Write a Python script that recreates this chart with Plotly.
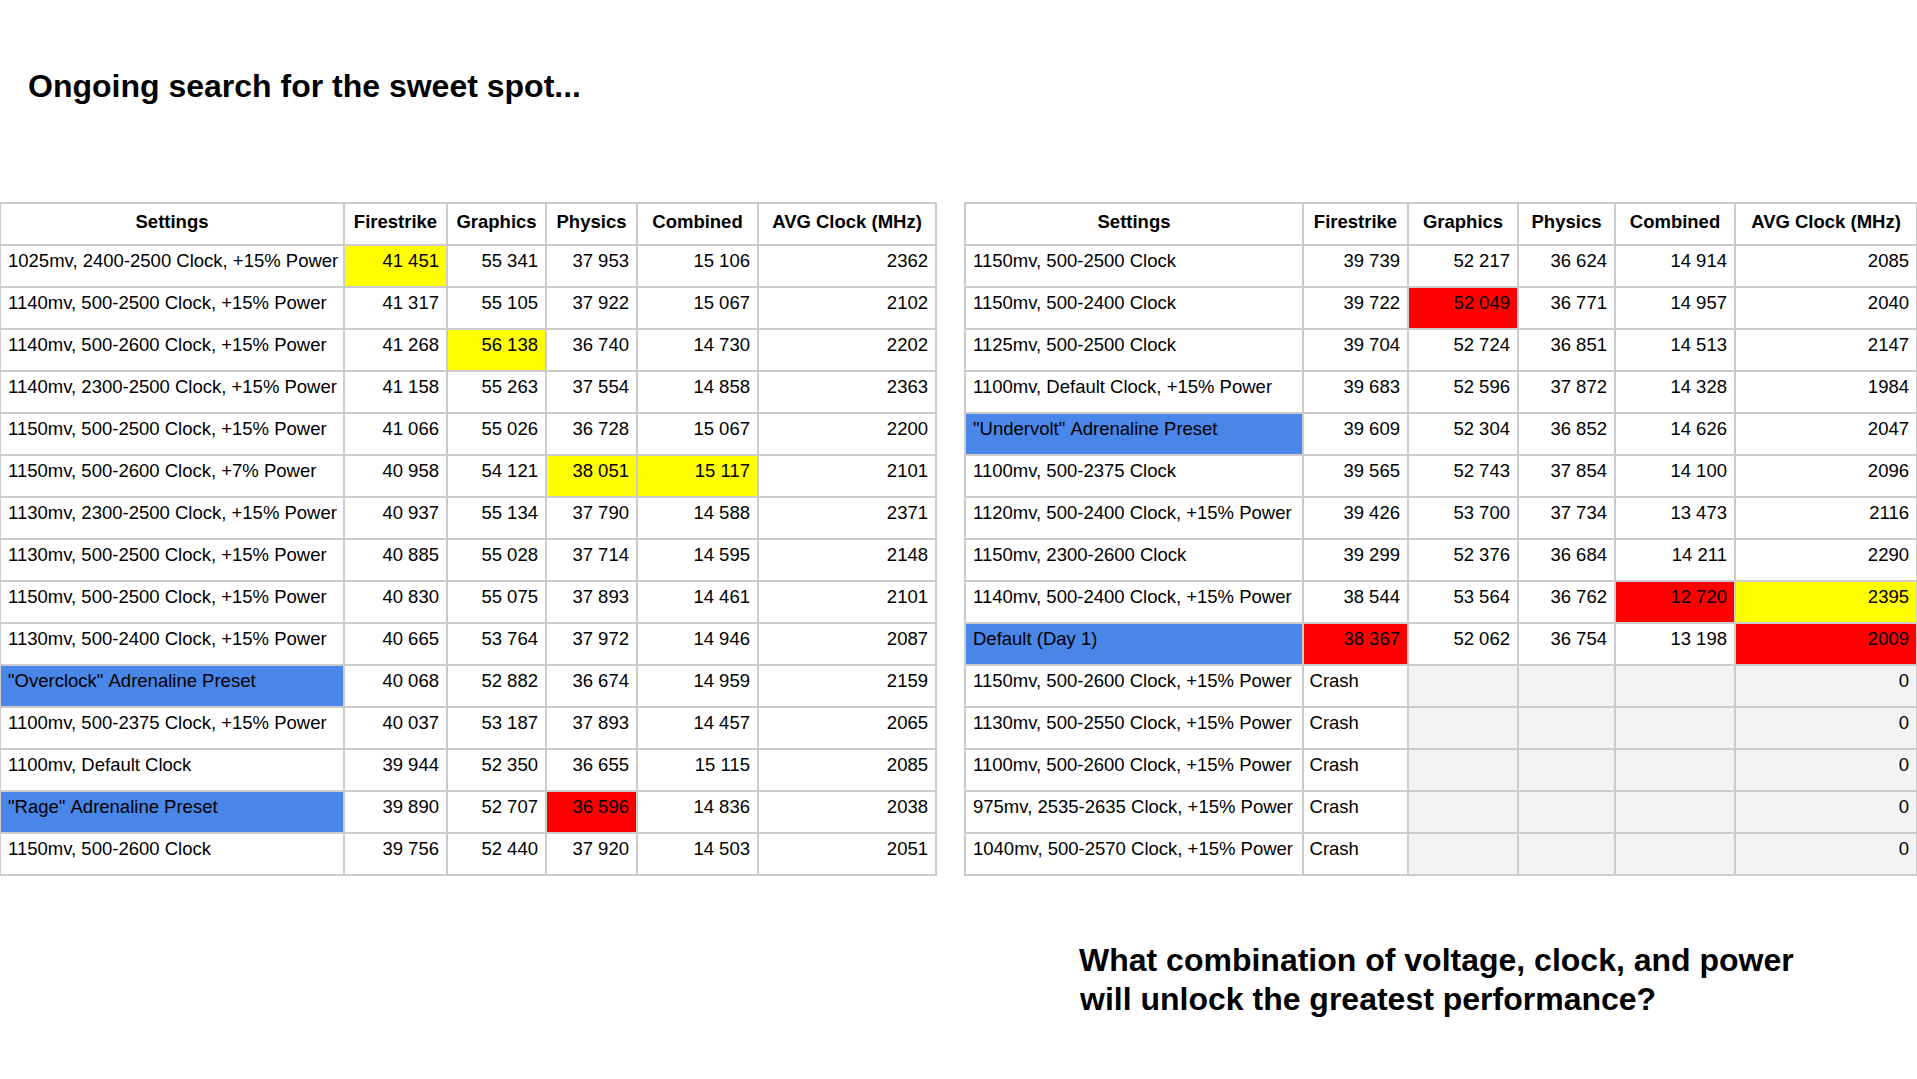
import plotly.graph_objects as go

##############################################################################
# data
headers = ["Settings", "Firestrike", "Graphics", "Physics", "Combined", "AVG Clock (MHz)"]

left_settings = [
    "1025mv, 2400-2500 Clock, +15% Power",
    "1140mv, 500-2500 Clock, +15% Power",
    "1140mv, 500-2600 Clock, +15% Power",
    "1140mv, 2300-2500 Clock, +15% Power",
    "1150mv, 500-2500 Clock, +15% Power",
    "1150mv, 500-2600 Clock, +7% Power",
    "1130mv, 2300-2500 Clock, +15% Power",
    "1130mv, 500-2500 Clock, +15% Power",
    "1150mv, 500-2500 Clock, +15% Power",
    "1130mv, 500-2400 Clock, +15% Power",
    '"Overclock" Adrenaline Preset',
    "1100mv, 500-2375 Clock, +15% Power",
    "1100mv, Default Clock",
    '"Rage" Adrenaline Preset',
    "1150mv, 500-2600 Clock",
]
left_firestrike = [41451, 41317, 41268, 41158, 41066, 40958, 40937, 40885, 40830, 40665,
                   40068, 40037, 39944, 39890, 39756]
left_graphics = [55341, 55105, 56138, 55263, 55026, 54121, 55134, 55028, 55075, 53764,
                 52882, 53187, 52350, 52707, 52440]
left_physics = [37953, 37922, 36740, 37554, 36728, 38051, 37790, 37714, 37893, 37972,
                36674, 37893, 36655, 36596, 37920]
left_combined = [15106, 15067, 14730, 14858, 15067, 15117, 14588, 14595, 14461, 14946,
                 14959, 14457, 15115, 14836, 14503]
left_clock = [2362, 2102, 2202, 2363, 2200, 2101, 2371, 2148, 2101, 2087,
              2159, 2065, 2085, 2038, 2051]

right_settings = [
    "1150mv, 500-2500 Clock",
    "1150mv, 500-2400 Clock",
    "1125mv, 500-2500 Clock",
    "1100mv, Default Clock, +15% Power",
    '"Undervolt" Adrenaline Preset',
    "1100mv, 500-2375 Clock",
    "1120mv, 500-2400 Clock, +15% Power",
    "1150mv, 2300-2600 Clock",
    "1140mv, 500-2400 Clock, +15% Power",
    "Default (Day 1)",
    "1150mv, 500-2600 Clock, +15% Power",
    "1130mv, 500-2550 Clock, +15% Power",
    "1100mv, 500-2600 Clock, +15% Power",
    "975mv, 2535-2635 Clock, +15% Power",
    "1040mv, 500-2570 Clock, +15% Power",
]
# None = crash
right_firestrike = [39739, 39722, 39704, 39683, 39609, 39565, 39426, 39299, 38544, 38367,
                    None, None, None, None, None]
right_graphics = [52217, 52049, 52724, 52596, 52304, 52743, 53700, 52376, 53564, 52062,
                  None, None, None, None, None]
right_physics = [36624, 36771, 36851, 37872, 36852, 37854, 37734, 36684, 36762, 36754,
                 None, None, None, None, None]
right_combined = [14914, 14957, 14513, 14328, 14626, 14100, 13473, 14211, 12720, 13198,
                  None, None, None, None, None]
right_clock = [2085, 2040, 2147, 1984, 2047, 2096, 2116, 2290, 2395, 2009, 0, 0, 0, 0, 0]

# highlighted cells: (row, column, colour)
left_marks = [(0, 1, "yellow"), (2, 2, "yellow"), (5, 3, "yellow"), (5, 4, "yellow"),
              (10, 0, "blue"), (13, 0, "blue"), (13, 3, "red")]
right_marks = [(1, 2, "red"), (4, 0, "blue"), (8, 4, "red"), (8, 5, "yellow"),
               (9, 0, "blue"), (9, 1, "red"), (9, 5, "red")]

title = "Ongoing search for the sweet spot..."
question = ["What combination of voltage, clock, and power",
            "will unlock the greatest performance?"]
##############################################################################

W, H = 1917, 1079
colors = {"yellow": "#ffff00", "red": "#ff0000", "blue": "#4a86e8"}
grid = "#cccccc"
crash_fill = "#f3f3f3"
FONT = "Liberation Sans, Arial"
NB = "\u00a0"


def fmt(v):
    if v is None:
        return ""
    return f"{v:,}".replace(",", NB)


def make_table(settings, cols, marks, x0, x1, widths):
    n = len(settings)
    # nbsp so the long settings don't wrap onto two lines
    values = [[s.replace(" ", NB) for s in settings]] + [[fmt(v) for v in c] for c in cols]
    crashed = [v is None for v in cols[0]]
    # "Crash" sits at the left of a right-aligned column -> pad with nbsp
    values[1] = ["Crash" + NB * 8 if c else v for c, v in zip(crashed, values[1])]
    values[-1] = [str(v) for v in cols[-1]]

    fills = [["white"] * n for _ in range(6)]
    for j in range(2, 6):
        for i in range(n):
            if crashed[i]:
                fills[j][i] = crash_fill
    for i, j, c in marks:
        fills[j][i] = colors[c]

    return go.Table(
        domain=dict(x=[x0 / W, x1 / W], y=[1 - 885 / H, 1 - 203 / H]),
        columnwidth=widths,
        header=dict(
            values=[f"<b>{h.replace(' ', NB)}</b>" for h in headers],
            align="center",
            height=42,
            fill_color="white",
            line=dict(color=grid, width=2),
            font=dict(family=FONT, size=18.5, color="black"),
        ),
        cells=dict(
            values=values,
            align=["left", "right", "right", "right", "right", "right"],
            height=42,
            fill_color=fills,
            line=dict(color=grid, width=2),
            font=dict(family=FONT, size=18.5, color="black"),
        ),
    )


fig = go.Figure()
fig.add_trace(make_table(left_settings,
                         [left_firestrike, left_graphics, left_physics, left_combined, left_clock],
                         left_marks, 0, 936, [344, 103, 99, 91, 121, 178]))
fig.add_trace(make_table(right_settings,
                         [right_firestrike, right_graphics, right_physics, right_combined, right_clock],
                         right_marks, 965, 1917, [338, 105, 110, 97, 120, 182]))

fig.add_annotation(text=f"<b>{title}</b>", xref="paper", yref="paper",
                   x=26 / W, y=1 - 86 / H, xanchor="left", yanchor="middle",
                   showarrow=False, font=dict(family=FONT, size=32, color="black"))
for k, line in enumerate(question):
    fig.add_annotation(text=f"<b>{line}</b>", xref="paper", yref="paper",
                       x=1077 / W, y=1 - (960 + 39 * k) / H, xanchor="left", yanchor="middle",
                       showarrow=False, font=dict(family=FONT, size=32, color="black"))

fig.update_layout(
    width=W, height=H,
    margin=dict(l=0, r=0, t=0, b=0),
    paper_bgcolor="white", plot_bgcolor="white",
)

fig.write_html("out.html", config={"displayModeBar": False},
               post_script="document.body.style.margin = '0';")
